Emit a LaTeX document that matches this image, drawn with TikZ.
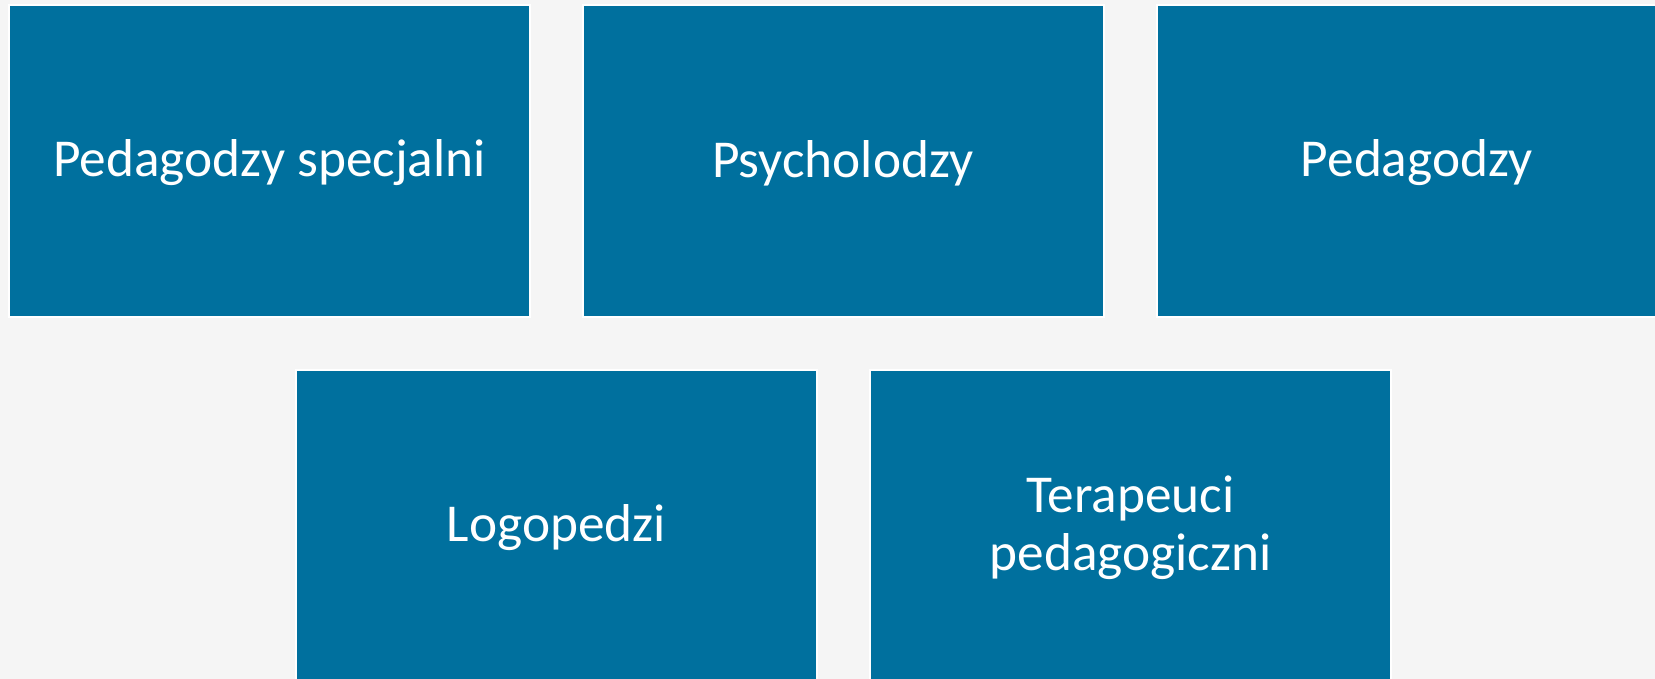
\documentclass[tikz,border=0pt]{standalone}
\usepackage{fontspec}
\setmainfont{Carlito}
\definecolor{bgc}{RGB}{245,245,245}
\definecolor{boxblue}{RGB}{0,112,158}
\begin{document}
\begin{tikzpicture}[x=1bp,y=-1bp,
  tile/.style={rectangle, fill=boxblue, draw=white, line width=2bp,
    minimum width=521bp, minimum height=312bp, inner sep=0pt},
  lbl/.style={text=white, align=center, inner sep=0pt,
    font=\fontsize{53.5}{58}\selectfont}]
\useasboundingbox (0,0) rectangle (1655,679);
\fill[bgc] (0,0) rectangle (1655,679);
\clip (0,0) rectangle (1655,679);
\node[tile] (a) at (269.5,161) {};
\node[tile] (b) at (843,161) {};
\node[tile] (c) at (1417,161) {};
\node[tile] (d) at (556.5,526) {};
\node[tile] (e) at (1130.5,526) {};
\node[lbl] (at) at ([yshift=-2bp]a.center) {Pedagodzy specjalni};
\node[lbl] (bt) at ([yshift=-2bp]b.center) {Psycholodzy};
\node[lbl] (ct) at ([yshift=-2bp]c.center) {Pedagodzy};
\node[lbl] (dt) at ([yshift=-2bp]d.center) {Logopedzi};
\node[lbl] (et) at ([yshift=-2bp]e.center) {Terapeuci\\pedagogiczni};
\end{tikzpicture}
\end{document}
